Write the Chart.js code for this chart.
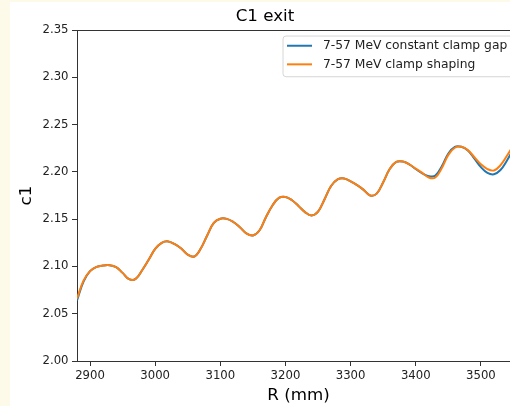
<!DOCTYPE html>
<html>
<head>
<meta charset="utf-8">
<script src="https://cdn.jsdelivr.net/npm/chart.js@4.4.1/dist/chart.umd.min.js"></script>
<style>
  html, body { margin: 0; padding: 0; background: #fdfae9; overflow: hidden; }
  #fig { position: absolute; left: 10px; top: 2px; width: 500px; height: 404px; background: #fff; overflow: hidden; }
  #c { display: block; }
</style>
</head>
<body>
<div id="fig"><canvas id="c" width="530" height="404"></canvas></div>
<script>
// R positions along the exit (mm)
const rMM = [2880, 2890, 2900, 2910, 2920, 2930, 2940, 2950, 2960, 2970,
  2980, 2990, 3000, 3010, 3020, 3030, 3040, 3050, 3060, 3070,
  3080, 3090, 3100, 3110, 3120, 3130, 3140, 3150, 3160, 3170,
  3180, 3190, 3200, 3210, 3220, 3230, 3240, 3250, 3260, 3270,
  3280, 3290, 3300, 3310, 3320, 3330, 3340, 3350, 3360, 3370,
  3380, 3390, 3400, 3410, 3420, 3430, 3440, 3450, 3460, 3470,
  3480, 3490, 3500, 3510, 3520, 3530, 3540, 3550, 3560]

// 7-57 MeV constant clamp gap
const c1Constant = [2.064, 2.084, 2.095, 2.0995, 2.101, 2.1013, 2.0993, 2.0932, 2.0865, 2.0868,
  2.096, 2.107, 2.1185, 2.125, 2.1265, 2.1235, 2.119, 2.1125, 2.1105, 2.119,
  2.133, 2.146, 2.1505, 2.1503, 2.147, 2.1415, 2.135, 2.1328, 2.138, 2.152,
  2.1645, 2.1725, 2.1735, 2.170, 2.164, 2.1575, 2.154, 2.158, 2.171, 2.185,
  2.192, 2.193, 2.190, 2.186, 2.181, 2.175, 2.177, 2.189, 2.203, 2.2105,
  2.211, 2.208, 2.203, 2.1985, 2.1955, 2.196, 2.206, 2.2195, 2.2265, 2.2265,
  2.2225, 2.214, 2.205, 2.199, 2.1975, 2.202, 2.212, 2.224, 2.235]

// 7-57 MeV clamp shaping
const c1Shaping = [2.066, 2.085, 2.095, 2.0995, 2.101, 2.1013, 2.0993, 2.0932, 2.0865, 2.0868,
  2.096, 2.107, 2.1185, 2.125, 2.1265, 2.1235, 2.119, 2.1125, 2.1105, 2.119,
  2.133, 2.146, 2.1505, 2.1503, 2.147, 2.1415, 2.135, 2.1328, 2.138, 2.152,
  2.1645, 2.1725, 2.1735, 2.170, 2.164, 2.1575, 2.154, 2.158, 2.171, 2.185,
  2.192, 2.193, 2.190, 2.186, 2.181, 2.175, 2.177, 2.189, 2.203, 2.2105,
  2.211, 2.208, 2.2035, 2.199, 2.194, 2.194, 2.204, 2.218, 2.2255, 2.2265,
  2.223, 2.2155, 2.208, 2.203, 2.2015, 2.207, 2.217, 2.228, 2.238]

const seriesNames = ['7-57 MeV constant clamp gap', '7-57 MeV clamp shaping']
const seriesColors = ['#1f77b4', '#ff7f0e']

const xMin = 2880, xMax = 3560
const yMin = 2.00, yMax = 2.35

const FONT = '"DejaVu Sans", "Liberation Sans", sans-serif'
const INK = '#222'

const points = (ys) => rMM.map((x, i) => ({x: x, y: ys[i]}))

// legend drawn inside the plot, upper right, like the original
const insideLegend = {
  id: 'insideLegend',
  afterDraw(chart) {
    const {ctx, chartArea} = chart
    const left = chartArea.right - 237
    const top = chartArea.top + 6
    const w = 231, h = 40.7, r = 3
    ctx.save()
    ctx.beginPath()
    ctx.moveTo(left + r, top)
    ctx.lineTo(left + w - r, top)
    ctx.arcTo(left + w, top, left + w, top + r, r)
    ctx.lineTo(left + w, top + h - r)
    ctx.arcTo(left + w, top + h, left + w - r, top + h, r)
    ctx.lineTo(left + r, top + h)
    ctx.arcTo(left, top + h, left, top + h - r, r)
    ctx.lineTo(left, top + r)
    ctx.arcTo(left, top, left + r, top, r)
    ctx.closePath()
    ctx.fillStyle = 'rgba(255,255,255,0.8)'
    ctx.fill()
    ctx.strokeStyle = '#d6d6d6'
    ctx.lineWidth = 1
    ctx.stroke()

    ctx.font = '12.3px ' + FONT
    ctx.textBaseline = 'middle'
    ctx.fillStyle = INK
    chart.data.datasets.forEach((ds, i) => {
      const y = top + 9.7 + i * 18.6
      ctx.beginPath()
      ctx.moveTo(left + 4, y)
      ctx.lineTo(left + 29, y)
      ctx.strokeStyle = ds.borderColor
      ctx.lineWidth = 2
      ctx.stroke()
      ctx.fillText(ds.label, left + 40, y)
    })
    ctx.restore()
  }
}

new Chart(document.getElementById('c'), {
  type: 'line',
  data: {
    datasets: [
      {
        label: seriesNames[0],
        data: points(c1Constant),
        borderColor: seriesColors[0],
        backgroundColor: seriesColors[0],
        borderWidth: 2,
        pointRadius: 0,
        fill: false,
        tension: 0.4,
        order: 2
      },
      {
        label: seriesNames[1],
        data: points(c1Shaping),
        borderColor: seriesColors[1],
        backgroundColor: seriesColors[1],
        borderWidth: 2,
        pointRadius: 0,
        fill: false,
        tension: 0.4,
        order: 1
      }
    ]
  },
  options: {
    responsive: false,
    animation: false,
    layout: { padding: { left: 0, right: 20, top: 0, bottom: 0 } },
    plugins: {
      legend: { display: false },
      tooltip: { enabled: false },
      title: {
        display: true,
        text: 'C1 exit',
        color: '#000',
        font: { family: FONT, size: 16.7, weight: 'normal', lineHeight: 1.2 },
        padding: { top: 5, bottom: 3 }
      }
    },
    scales: {
      x: {
        type: 'linear',
        position: 'bottom',
        min: xMin,
        max: xMax,
        afterFit(scale) { scale.height = 45 },
        ticks: {
          stepSize: 100,
          includeBounds: false,
          maxRotation: 0,
          autoSkip: false,
          padding: 3,
          color: INK,
          font: { family: FONT, size: 11.7 },
          callback: (v) => String(v)
        },
        grid: { drawOnChartArea: false, drawTicks: true, tickLength: 5, tickColor: '#333', tickWidth: 1 },
        border: { display: true, color: '#333', width: 1 },
        title: {
          display: true,
          text: 'R (mm)',
          color: '#000',
          font: { family: FONT, size: 16.7, lineHeight: 1.2 },
          padding: { top: 0, bottom: 0 }
        }
      },
      xTop: {
        type: 'linear',
        position: 'top',
        min: xMin,
        max: xMax,
        afterFit(scale) { scale.height = 0 },
        ticks: { display: false },
        grid: { display: false, drawTicks: false },
        border: { display: true, color: '#333', width: 1 }
      },
      y: {
        type: 'linear',
        position: 'left',
        min: yMin,
        max: yMax,
        afterFit(scale) { scale.width = 67 },
        ticks: {
          stepSize: 0.05,
          includeBounds: false,
          padding: 3.5,
          color: INK,
          font: { family: FONT, size: 11.7 },
          callback: (v) => Number(v).toFixed(2)
        },
        grid: { drawOnChartArea: false, drawTicks: true, tickLength: 5, tickColor: '#333', tickWidth: 1 },
        border: { display: true, color: '#333', width: 1 },
        title: {
          display: true,
          text: 'c1',
          color: '#000',
          font: { family: FONT, size: 16.7, lineHeight: 1.2 },
          padding: { top: 7, bottom: 0 }
        }
      }
    }
  },
  plugins: [insideLegend]
})
</script>
</body>
</html>
